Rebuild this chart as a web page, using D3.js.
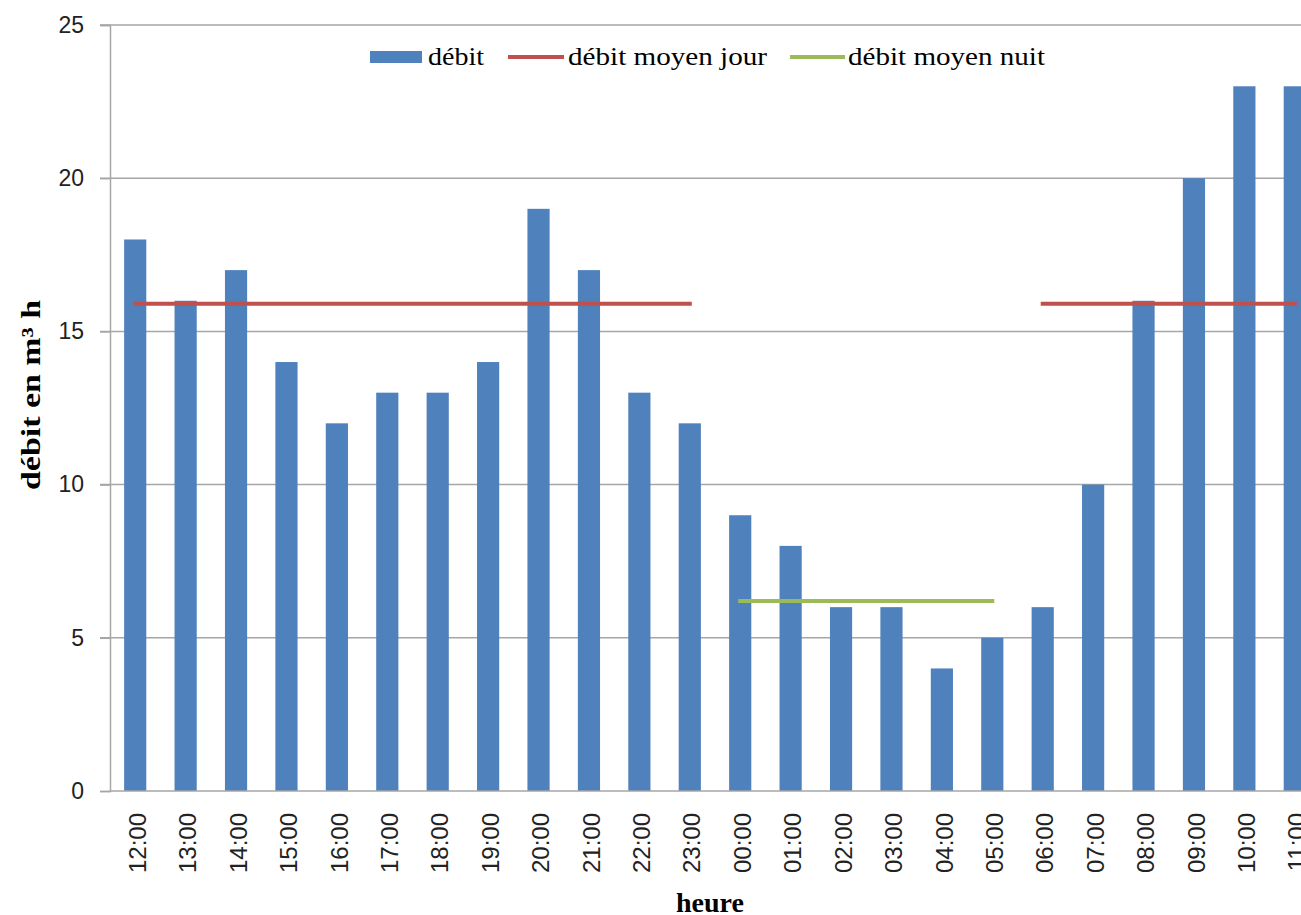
<!DOCTYPE html>
<html>
<head>
<meta charset="utf-8">
<script src="https://cdn.jsdelivr.net/npm/d3@7"></script>
<style>
  html, body { margin: 0; padding: 0; background: #fff; overflow: hidden; }
  svg { display: block; }
</style>
</head>
<body>
<svg id="chart" width="1301" height="915"></svg>
<script>
// Hourly flow, from noon to 11:00 the next morning
const hours = ["12:00","13:00","14:00","15:00","16:00","17:00","18:00","19:00","20:00","21:00","22:00","23:00",
               "00:00","01:00","02:00","03:00","04:00","05:00","06:00","07:00","08:00","09:00","10:00","11:00"];
const debit = [18,16,17,14,12,13,13,14,19,17,13,12, 9,8,6,6,4,5, 6,10,16,20,23,23];

// Mean flow during the day and the night
const dayMean = 15.9;
const nightMean = 6.2;
const daySegments = [["12:00","23:00"], ["06:00","11:00"]];
const nightSegments = [["00:00","05:00"]];

const yTicks = [0,5,10,15,20,25];

const colors = { bar: "#4f81bd", day: "#c0504d", night: "#9bbb59", grid: "#a6a6a6" };

const svg = d3.select("#chart");

const x = d3.scaleBand().domain(hours).range([110, 1320]).paddingInner(0.56).paddingOuter(0.28);
const y = d3.scaleLinear().domain([0, 25]).range([791, 25]);

// grid lines
svg.append("g")
  .selectAll("line")
  .data(yTicks.filter(d => d > 0))
  .join("line")
  .attr("x1", 100).attr("x2", 1301)
  .attr("y1", d => y(d)).attr("y2", d => y(d))
  .attr("stroke", colors.grid).attr("stroke-width", 1.5);

// y axis
const yAxis = svg.append("g").attr("transform", "translate(110,0)")
  .call(d3.axisLeft(y).tickValues(yTicks).tickSize(10).tickPadding(16).tickFormat(d3.format("d")));
yAxis.select(".domain").attr("stroke", colors.grid).attr("stroke-width", 1.5);
yAxis.selectAll(".tick line").attr("stroke", colors.grid).attr("stroke-width", 1.5);
yAxis.selectAll(".tick text")
  .attr("font-family", "'Liberation Sans', Arial, sans-serif")
  .attr("font-size", 23).attr("fill", "#222");

// bars
svg.append("g")
  .selectAll("rect")
  .data(hours.map((h, i) => ({ h, v: debit[i] })))
  .join("rect")
  .attr("x", d => x(d.h))
  .attr("width", x.bandwidth())
  .attr("y", d => y(d.v))
  .attr("height", d => y(0) - y(d.v))
  .attr("fill", colors.bar);

// x axis baseline
svg.append("line")
  .attr("x1", 110).attr("x2", 1301)
  .attr("y1", y(0)).attr("y2", y(0))
  .attr("stroke", colors.grid).attr("stroke-width", 1.5);

// x tick labels, rotated
const cx = h => x(h) + x.bandwidth() / 2;
svg.append("g")
  .selectAll("text")
  .data(hours)
  .join("text")
  .attr("transform", h => `translate(${cx(h) + 2},813) rotate(-90)`)
  .attr("text-anchor", "end")
  .attr("dy", "0.36em")
  .attr("font-family", "'Liberation Sans', Arial, sans-serif")
  .attr("font-size", 24)
  .attr("fill", "#222")
  .text(h => h);

// mean lines
function meanLines(segments, value, color) {
  svg.append("g")
    .selectAll("line")
    .data(segments)
    .join("line")
    .attr("x1", d => cx(d[0]) - 2)
    .attr("x2", d => cx(d[1]) + 2)
    .attr("y1", y(value)).attr("y2", y(value))
    .attr("stroke", color).attr("stroke-width", 4);
}
meanLines(daySegments, dayMean, colors.day);
meanLines(nightSegments, nightMean, colors.night);

// legend
const serif = "'Liberation Serif', 'Times New Roman', serif";
const legend = svg.append("g");
legend.append("rect").attr("x", 370).attr("y", 51).attr("width", 52).attr("height", 12).attr("fill", colors.bar);
legend.append("text").attr("x", 428).attr("y", 65).attr("font-family", serif).attr("font-size", 26)
  .attr("textLength", 56).attr("lengthAdjust", "spacingAndGlyphs").text("débit");
legend.append("line").attr("x1", 508).attr("x2", 564).attr("y1", 57).attr("y2", 57)
  .attr("stroke", colors.day).attr("stroke-width", 4);
legend.append("text").attr("x", 568).attr("y", 65).attr("font-family", serif).attr("font-size", 26)
  .attr("textLength", 199).attr("lengthAdjust", "spacingAndGlyphs").text("débit moyen jour");
legend.append("line").attr("x1", 790).attr("x2", 845).attr("y1", 57).attr("y2", 57)
  .attr("stroke", colors.night).attr("stroke-width", 4);
legend.append("text").attr("x", 848).attr("y", 65).attr("font-family", serif).attr("font-size", 26)
  .attr("textLength", 197).attr("lengthAdjust", "spacingAndGlyphs").text("débit moyen nuit");

// axis titles
svg.append("text")
  .attr("transform", "translate(40,395) rotate(-90)")
  .attr("text-anchor", "middle")
  .attr("font-family", serif).attr("font-weight", "bold").attr("font-size", 27)
  .attr("textLength", 190).attr("lengthAdjust", "spacingAndGlyphs")
  .text("débit en m³ h");

svg.append("text")
  .attr("x", 710).attr("y", 912)
  .attr("text-anchor", "middle")
  .attr("font-family", serif).attr("font-weight", "bold").attr("font-size", 28)
  .text("heure");
</script>
</body>
</html>
